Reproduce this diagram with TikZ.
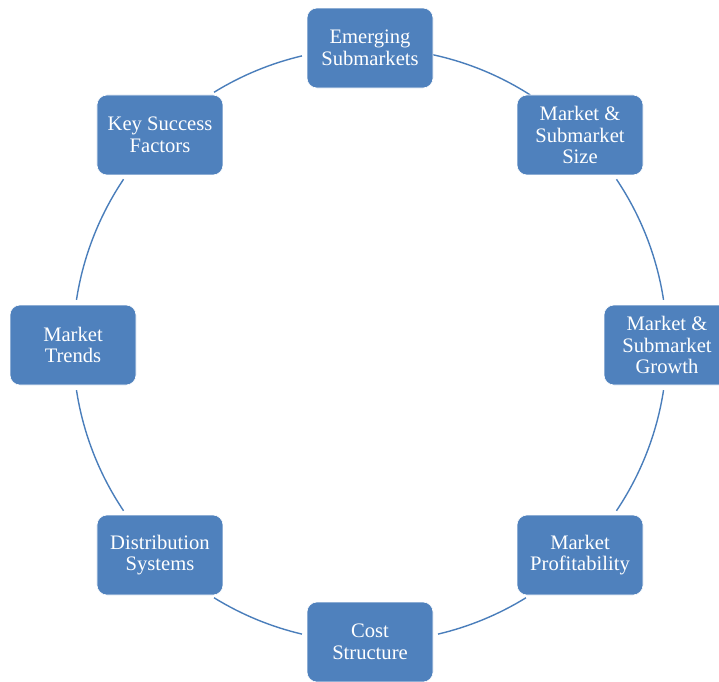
\documentclass[tikz,border=0pt]{standalone}
\usepackage{fontspec}
\setmainfont{Liberation Serif}
\definecolor{boxblue}{HTML}{4F81BD}
\definecolor{ringblue}{HTML}{4A7EBB}
\begin{document}
\begin{tikzpicture}[x=1pt,y=-1pt,
  cyclebox/.style={rectangle, rounded corners=10pt, fill=boxblue, draw=white, line width=0.6pt,
    minimum width=126pt, minimum height=80pt, inner sep=2pt, text=white,
    font=\fontsize{20.6}{21.6}\selectfont, align=center},
  ring/.style={draw=ringblue, line width=1.4pt}]
\useasboundingbox (0,0) rectangle (719,681);
\fill[white] (0,0) rectangle (719,681);
\coordinate (ctr) at (370,345);
\def\R{297}
% ring arcs (math angles, counterclockwise; y axis flipped so use negatives)
\foreach \a/\b in {57.33/77.75, 8.74/33.92, -33.92/-8.74, -76.75/-58.33,
                   -121.67/-103.25, 188.74/213.92, 146.08/171.26, 103.25/121.67}{
  \draw[ring] ([shift={(-\a:\R)}]ctr) arc[start angle=-\a, end angle=-\b, radius=\R];
}
\node[cyclebox] (emerg) at ([shift={(-90:\R)}]ctr) {Emerging\\Submarkets};
\node[cyclebox] (size) at ([shift={(-45:\R)}]ctr) {Market \&\\Submarket\\Size};
\node[cyclebox] (growth) at ([shift={(0:\R)}]ctr) {Market \&\\Submarket\\Growth};
\node[cyclebox] (profit) at ([shift={(45:\R)}]ctr) {Market\\Profitability};
\node[cyclebox] (cost) at ([shift={(90:\R)}]ctr) {Cost\\Structure};
\node[cyclebox] (distr) at ([shift={(135:\R)}]ctr) {Distribution\\Systems};
\node[cyclebox] (trends) at ([shift={(180:\R)}]ctr) {Market\\Trends};
\node[cyclebox] (ksf) at ([shift={(225:\R)}]ctr) {Key Success\\Factors};
\end{tikzpicture}
\end{document}
